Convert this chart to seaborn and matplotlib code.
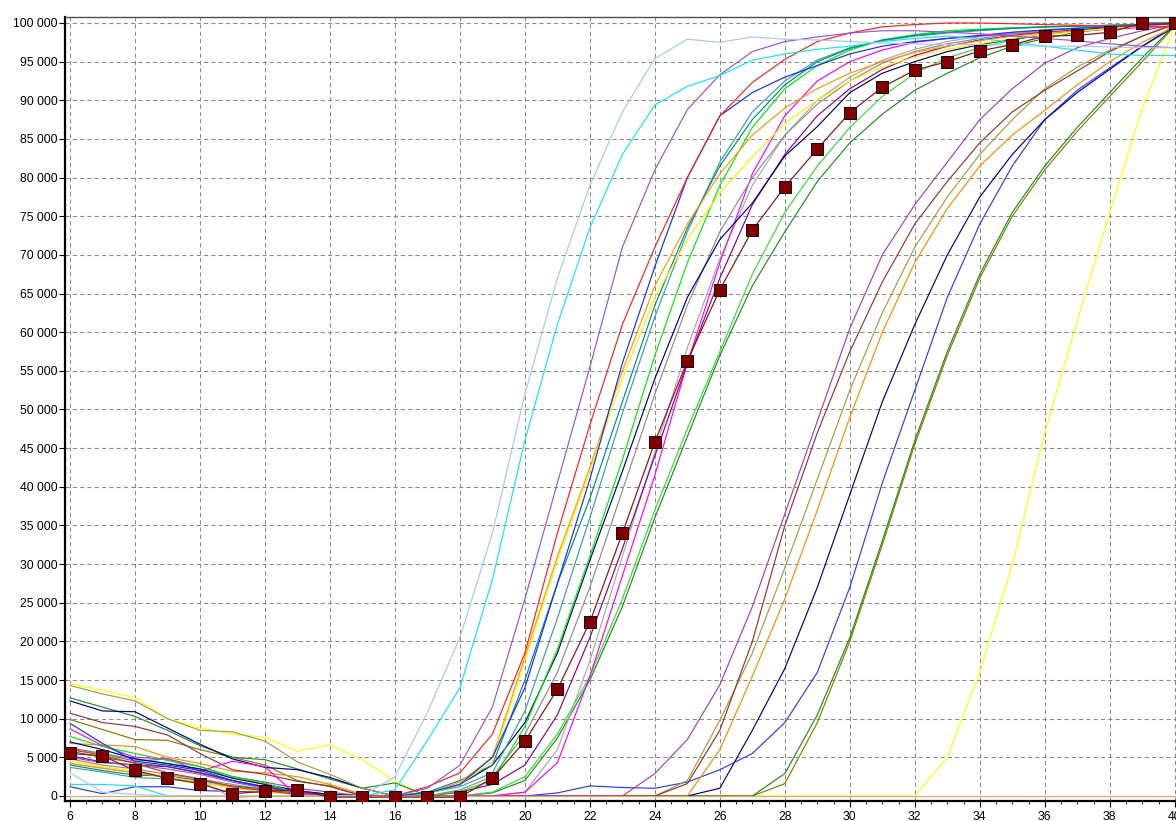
import numpy as np
import pandas as pd
import matplotlib
matplotlib.use("Agg")
import matplotlib.pyplot as plt
from matplotlib.ticker import FuncFormatter, MultipleLocator
import seaborn as sns

# Amplification curves: fluorescence per cycle for each well
cycles = list(range(6, 41))

well_a1 = [3000, 500, 200, 0, 0, 0, 0, 0, 0, 0,
           2500, 10800, 20500, 34000, 52000, 67000, 79000, 88500, 95400, 97900,
           97500, 98200, 97900, 97800, 97600, 97400, 97300, 97200, 97200, 97100,
           97000, 97000, 96900, 96800, 96800]
well_a2 = [1500, 1500, 1300, 0, 0, 0, 0, 0, 0, 0,
           800, 7200, 14000, 28000, 46000, 61000, 73500, 83000, 89400, 91800,
           93200, 95200, 96000, 96600, 97000, 97600, 98000, 98300, 98000, 97500,
           97000, 96500, 96000, 95800, 95800]
well_a3 = [5000, 4300, 4000, 3500, 2800, 1800, 1000, 400, 0, 0,
           0, 1000, 4000, 11500, 25500, 40500, 55500, 71000, 81000, 88800,
           93300, 96300, 97600, 98200, 98700, 99000, 99000, 98800, 98600, 98300,
           98000, 97700, 97300, 97000, 96800]
well_a4 = [6000, 5300, 4200, 3000, 2200, 1200, 700, 200, 0, 0,
           0, 1200, 3000, 8000, 18500, 34000, 48000, 61000, 71000, 80000,
           88000, 92300, 95300, 97600, 98700, 99500, 99800, 100000, 100000, 99900,
           99800, 99700, 99600, 99600, 99500]
well_a5 = [9400, 6800, 4500, 4000, 3300, 2000, 1000, 500, 0, 0,
           0, 400, 1500, 5000, 14000, 27500, 41000, 56000, 68500, 80000,
           88000, 91000, 93000, 94500, 96000, 97000, 97600, 98000, 98400, 98800,
           99100, 99300, 99500, 99700, 99900]
well_a6 = [4500, 3800, 3200, 2500, 1800, 1000, 500, 200, 0, 0,
           0, 300, 1500, 4500, 17500, 30500, 42000, 54000, 64500, 72000,
           78000, 82700, 87000, 90000, 92500, 94300, 95600, 96600, 97300, 98000,
           98500, 98900, 99300, 99600, 99800]
well_a7 = [4200, 3600, 3000, 2400, 1700, 1100, 600, 200, 0, 0,
           0, 300, 1800, 5000, 18000, 31000, 42500, 55000, 66000, 74000,
           80500, 85500, 89000, 91500, 93500, 95000, 96200, 97000, 97700, 98300,
           98700, 99000, 99300, 99600, 99800]
well_a8 = [4000, 3300, 2700, 2600, 2000, 1300, 900, 400, 0, 0,
           0, 500, 2000, 4000, 15000, 27500, 38500, 51000, 63500, 73500,
           81500, 87500, 92000, 95000, 96700, 97800, 98400, 98800, 99100, 99300,
           99500, 99600, 99700, 99800, 99900]
well_b1 = [3700, 3100, 2400, 2200, 1800, 1100, 700, 300, 0, 0,
           0, 400, 1200, 3000, 11000, 23000, 36000, 49500, 62000, 73000,
           82000, 88500, 92500, 95200, 96800, 97700, 98300, 98700, 99000, 99300,
           99500, 99600, 99700, 99800, 99900]
well_b2 = [7700, 6400, 5500, 4600, 3800, 2500, 1700, 300, 0, 0,
           0, 0, 600, 2000, 9000, 19000, 31000, 43500, 57000, 69000,
           79000, 86500, 91500, 94500, 96500, 97800, 98500, 99000, 99200, 99400,
           99500, 99600, 99700, 99800, 99900]
well_b3 = [7000, 6000, 4800, 4200, 3500, 2300, 1500, 700, 200, 0,
           0, 300, 1500, 4000, 9500, 18500, 30500, 42000, 54000, 64500,
           72000, 76700, 82800, 86600, 91000, 93500, 95000, 96300, 97200, 97900,
           98500, 99000, 99400, 99700, 100000]
well_b4 = [4800, 4000, 3500, 2800, 2200, 1500, 800, 300, 0, 0,
           0, 0, 800, 2500, 8000, 16000, 27000, 39500, 52000, 63500,
           73000, 80000, 85500, 89500, 92500, 94800, 96300, 97300, 98000, 98600,
           99000, 99300, 99600, 99800, 100000]
well_b6 = [5200, 4400, 4000, 3800, 3000, 2000, 1200, 600, 200, 0,
           0, 0, 500, 1500, 4000, 10500, 20500, 32000, 44000, 56000,
           67000, 76500, 83000, 88000, 91500, 94000, 95800, 97000, 97800, 98400,
           98800, 99100, 99400, 99700, 99900]
well_b7 = [8700, 6500, 5000, 4800, 3200, 4500, 3800, 0, 0, 0,
           0, 0, 0, 0, 500, 4300, 15500, 28500, 41500, 56000,
           69000, 80500, 88000, 92500, 95000, 96500, 97500, 98000, 98300, 98600,
           98800, 99000, 99200, 99400, 99600]
well_b8 = [4200, 3600, 3000, 2500, 1900, -200, 0, 0, 0, 0,
           0, 0, 0, 0, 500, 6000, 17500, 31000, 44500, 58000,
           69500, 79000, 85500, 90000, 93000, 95200, 96600, 97600, 98300, 98800,
           99100, 99400, 99600, 99800, 100000]
well_c1 = [6000, 5500, 4800, 4200, 3500, 2500, 1500, 300, 0, 0,
           0, 0, 0, 500, 2500, 8000, 15500, 25500, 37000, 47500,
           57500, 67500, 75500, 81500, 86500, 90500, 93500, 95500, 96800, 97800,
           98500, 99000, 99400, 99700, 99900]
well_c2 = [5800, 5000, 4300, 3800, 3000, 2000, 1200, 400, 0, 0,
           0, 0, 0, 400, 2000, 7500, 15000, 24500, 36000, 46500,
           57000, 66000, 73000, 79500, 84500, 88200, 91300, 93500, 95500, 97000,
           98000, 98800, 99300, 99700, 100000]
well_c3 = [6200, 5500, 4500, 4800, 3800, 2500, 1800, 1000, 500, 0,
           0, 0, 0, 0, 0, 0, 0, 0, 2900, 7300,
           14400, 24500, 36500, 48500, 60500, 70000, 76500, 82000, 87500, 91500,
           94800, 96800, 98000, 99000, 99800]
well_c4 = [10700, 9500, 9000, 7900, 5500, 3400, 2800, 1900, 1300, 0,
           0, 0, 0, 0, 0, 0, 0, 0, 0, 1600,
           8500, 20000, 35000, 47000, 57500, 66500, 74000, 79500, 84500, 88500,
           91300, 93800, 96300, 98300, 99800]
well_c5 = [14300, 13200, 12300, 10000, 8500, 8300, 7100, 4400, 2800, 1000,
           0, 0, 0, 0, 0, 0, 0, 0, 0, 2000,
           9800, 18500, 29500, 41000, 52500, 62500, 71000, 77500, 83000, 87500,
           91500, 94300, 96500, 98300, 100000]
well_c6 = [6800, 6600, 6400, 5000, 4200, 3200, 3000, 2500, 1500, 200,
           0, 0, 0, 0, 0, 0, 0, 0, 0, 0,
           6000, 15500, 25500, 37000, 49000, 60000, 69000, 76000, 81500, 85500,
           88700, 92000, 95000, 97500, 99500]
well_c7 = [12300, 11000, 10900, 8800, 6700, 4800, 3700, 3400, 2400, 1000,
           0, 0, 0, 0, 0, 0, 0, 0, 0, 0,
           1000, 8500, 16500, 27000, 39000, 51000, 61000, 70000, 77500, 83000,
           87500, 91000, 94000, 97000, 99500]
well_c8 = [1200, 300, 1200, 1200, 700, 600, 500, 300, 100, 0,
           0, 0, 0, 0, 0, 400, 1300, 1100, 1000, 1800,
           3400, 5500, 9500, 16000, 27000, 40500, 52500, 64500, 74000, 81500,
           87500, 91300, 94200, 97000, 99700]
well_d1 = [12700, 11500, 10300, 8500, 6500, 5000, 4700, 3500, 2200, 1000,
           1700, 0, 0, 0, 0, 0, 0, 0, 0, 0,
           0, 0, 2900, 10500, 20500, 33000, 46000, 57500, 67500, 75500,
           81500, 86500, 91000, 95500, 99700]
well_d2 = [9900, 8600, 7300, 7200, 6000, 5000, 4000, 2000, 1200, 0,
           0, 0, 0, 0, 0, 0, 0, 0, 0, 0,
           0, 0, 1600, 9500, 20000, 32500, 45500, 57000, 67000, 75000,
           81000, 86000, 90500, 95000, 99600]
well_d3 = [14500, 13700, 12700, 10000, 8800, 8000, 7600, 5800, 6600, 4700,
           1900, 0, 0, 0, 0, 0, 0, 0, 0, 0,
           0, 0, 0, 0, 0, 0, 0, 5000, 16000, 30000,
           47000, 61500, 75500, 89000, 99600]
ntc = [0, 0, 0, 0, 0, 0, 0, 0, 0, 0,
       0, 0, 0, 0, 0, 0, 0, 0, 0, 0,
       0, 0, 0, 0, 0, 0, 0, 0, 0, 0,
       0, 0, 0, 0, 0]

# Highlighted reference well, drawn with square markers
well_b5 = [5500, 5200, 3300, 2300, 1600, 300, 600, 800, -150, -150,
           -150, -150, -150, 2300, 7100, 13800, 22500, 34000, 45800, 56300,
           65500, 73200, 78800, 83700, 88400, 91700, 93900, 95000, 96400, 97200,
           98300, 98400, 98800, 100000, 100000]

wells = {
    "D3": (well_d3, "#ffff00"),
    "D2": (well_d2, "#808000"),
    "D1": (well_d1, "#228b22"),
    "C8": (well_c8, "#2a3cff"),
    "C7": (well_c7, "#00008b"),
    "C6": (well_c6, "#ff8c00"),
    "C5": (well_c5, "#a0a040"),
    "C4": (well_c4, "#993333"),
    "C3": (well_c3, "#a040c0"),
    "C2": (well_c2, "#228b22"),
    "C1": (well_c1, "#33dd33"),
    "B8": (well_b8, "#a8a8a8"),
    "B7": (well_b7, "#ff00ff"),
    "B6": (well_b6, "#8b008b"),
    "B4": (well_b4, "#8c8c8c"),
    "B3": (well_b3, "#000080"),
    "B2": (well_b2, "#00ee00"),
    "B1": (well_b1, "#3aa0a0"),
    "A8": (well_a8, "#008b8b"),
    "A7": (well_a7, "#ff9900"),
    "A6": (well_a6, "#ffee00"),
    "A5": (well_a5, "#1030ff"),
    "A4": (well_a4, "#ff2020"),
    "A3": (well_a3, "#9955cc"),
    "A2": (well_a2, "#10e8f0"),
    "A1": (well_a1, "#a6c8f0"),
    "NTC": (ntc, "#f4a460"),
}

frames = []
for name, (vals, _) in wells.items():
    frames.append(pd.DataFrame({"Cycle": cycles, "RFU": vals, "Well": name}))
df = pd.concat(frames, ignore_index=True)
palette = {name: col for name, (_, col) in wells.items()}

sns.set_style("white")
plt.rcParams["font.family"] = ["Liberation Sans", "DejaVu Sans"]

W, H = 1176, 821
fig = plt.figure(figsize=(W / 100, H / 100), dpi=100)
fig.patch.set_facecolor("white")

left_px, right_px, top_px, bottom_px = 65, 1191, 17, 801
ax = fig.add_axes([left_px / W, (H - bottom_px) / H,
                   (right_px - left_px) / W, (bottom_px - top_px) / H])

sns.lineplot(data=df, x="Cycle", y="RFU", hue="Well", hue_order=list(wells.keys()),
             palette=palette, linewidth=0.85, legend=False, errorbar=None,
             estimator=None, ax=ax, zorder=3)

sns.lineplot(x=cycles, y=well_b5, color="#8b1a1a", linewidth=0.9,
             marker="s", markersize=8.5, markerfacecolor="#800000",
             markeredgecolor="#1a0000", markeredgewidth=0.7,
             errorbar=None, ax=ax, zorder=4)

ax.set_xlim(5.846, 40.5)
ax.set_ylim(-647, 100776)

ax.xaxis.set_major_locator(MultipleLocator(2))
ax.xaxis.set_minor_locator(MultipleLocator(0.5))
ax.yaxis.set_major_locator(MultipleLocator(5000))
ax.yaxis.set_major_formatter(FuncFormatter(lambda v, p: f"{int(round(v)):,}".replace(",", " ")))
ax.xaxis.set_major_formatter(FuncFormatter(lambda v, p: f"{int(round(v))}"))

ax.grid(True, which="major", color="#8a8a8a", linestyle=(0, (4, 3)), linewidth=0.75, zorder=0)
ax.set_axisbelow(True)

ax.tick_params(axis="both", which="major", labelsize=8.8, colors="black", length=4,
               width=0.8, direction="out")
ax.tick_params(axis="y", which="major", pad=1.5, left=True)
ax.tick_params(axis="x", which="major", pad=3, bottom=True)
ax.tick_params(axis="x", which="minor", length=2.5, width=0.7, bottom=True)

for side in ("left", "bottom"):
    ax.spines[side].set_color("black")
    ax.spines[side].set_linewidth(1.6)
ax.spines["top"].set_color("#505050")
ax.spines["top"].set_linewidth(1.0)
ax.spines["right"].set_visible(False)

ax.set_xlabel("")
ax.set_ylabel("")

fig.savefig("out.png", dpi=100, facecolor="white")
